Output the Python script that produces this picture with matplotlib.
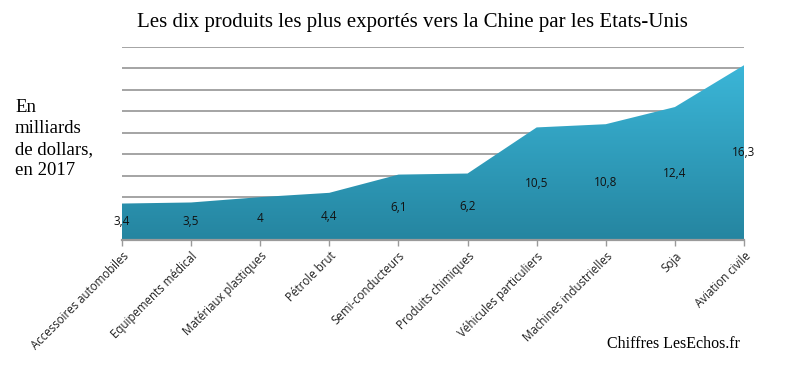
import numpy as np
import matplotlib
matplotlib.use("Agg")
import matplotlib.pyplot as plt
import matplotlib.colors as mcolors

# ---------------------------------------------------------
# Data
# ---------------------------------------------------------
produits = [
    "Accessoires automobiles", "Equipements médical", "Matériaux plastiques",
    "Pétrole brut", "Semi-conducteurs", "Produits chimiques",
    "Véhicules particuliers", "Machines industrielles", "Soja", "Aviation civile",
]
valeurs = [3.4, 3.5, 4.0, 4.4, 6.1, 6.2, 10.5, 10.8, 12.4, 16.3]
etiquettes = ["3,4", "3,5", "4", "4,4", "6,1", "6,2", "10,5", "10,8", "12,4", "16,3"]
y_grid = np.arange(2, 19, 2)

# ---------------------------------------------------------
# Figure
# ---------------------------------------------------------
W, H = 791, 380
fig = plt.figure(figsize=(W / 100, H / 100), dpi=100)
ax = fig.add_axes([122 / W, (H - 240) / H, (744 - 122) / W, (240 - 47) / H])

x = np.arange(len(valeurs))

# gridlines
for yv in y_grid:
    ax.axhline(yv, color="#8c8c8c", lw=1.1, zorder=1)

# area with vertical gradient
poly = ax.fill_between(x, 0, valeurs, color="none", lw=0, zorder=2)
cmap = mcolors.LinearSegmentedColormap.from_list("teal", ["#2585a0", "#3bb6d8"])
grad = np.linspace(0, 1, 256).reshape(-1, 1)
img = ax.imshow(grad, cmap=cmap, origin="lower", aspect="auto",
                extent=[0, len(valeurs) - 1, 0, max(valeurs)], zorder=2)
img.set_clip_path(poly.get_paths()[0], transform=ax.transData)
ax.set_xlim(0, len(valeurs) - 1)
ax.set_ylim(0, 18)

# value labels
for xi, v, lab in zip(x, valeurs, etiquettes):
    ax.text(xi, v / 2, lab, ha="center", va="center", fontsize=8.5,
            family="Open Sans", color="#111111", zorder=4)

# axes styling
for s in ["top", "right", "left"]:
    ax.spines[s].set_visible(False)
ax.spines["bottom"].set_color("#9a9a9a")
ax.spines["bottom"].set_linewidth(1.6)
ax.spines["bottom"].set_zorder(5)
ax.set_yticks([])
ax.set_xticks(x)
ax.set_xticklabels(produits, rotation=45, ha="right", va="top",
                   rotation_mode="anchor", fontsize=8.3, family="Open Sans",
                   color="#222222")
ax.tick_params(axis="x", length=4, width=1, color="#9a9a9a", pad=3)

# texts
fig.text(412 / W, 1 - 22 / H, "Les dix produits les plus exportés vers la Chine par les Etats-Unis",
         ha="center", va="center", fontsize=15, family="Liberation Serif")
fig.text(15 / W, 1 - 139 / H, "En\nmilliards\nde dollars,\nen 2017",
         ha="left", va="center", fontsize=13.5, family="Liberation Serif",
         linespacing=1.32)
fig.text(740 / W, 1 - 344 / H, "Chiffres LesEchos.fr", ha="right", va="center",
         fontsize=11.5, family="Liberation Serif")

fig.savefig("out.png", dpi=100)
plt.close(fig)
